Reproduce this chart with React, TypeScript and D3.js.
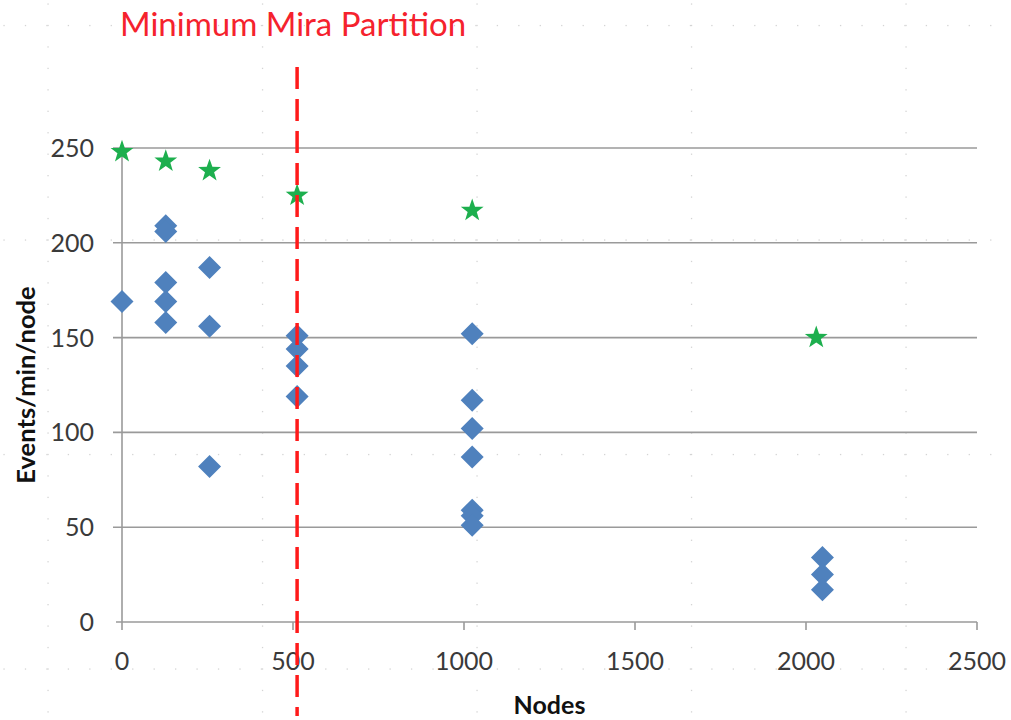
import React from "react";
import * as d3 from "d3";

const blueNodes = [0, 128, 128, 128, 128, 128, 256, 256, 256, 512, 512, 512, 512, 1024, 1024, 1024, 1024, 1024, 1024, 1024, 2048, 2048, 2048];
const blueValues = [169, 209, 206, 179, 169, 158, 187, 156, 82, 151, 144, 135, 119, 152, 117, 102, 87, 59, 56, 51, 34, 25, 17];
const starNodes = [0, 128, 256, 512, 1024, 2030];
const starValues = [248, 243, 238, 225, 217, 150];
const xTicks = [0, 500, 1000, 1500, 2000, 2500];
const yTicks = [0, 50, 100, 150, 200, 250];
const partitionNodes = 512;
const titleText = "Minimum Mira Partition";

const W = 1011;
const H = 720;

function starPath(R: number, r: number) {
  const pts: [number, number][] = [];
  for (let i = 0; i < 10; i++) {
    const a = -Math.PI / 2 + (i * Math.PI) / 5;
    const rad = i % 2 === 0 ? R : r;
    pts.push([Math.cos(a) * rad, Math.sin(a) * rad]);
  }
  return d3.line()(pts) + "Z";
}

function diamondPath(h: number) {
  return `M0,${-h}L${h},0L0,${h}L${-h},0Z`;
}

export default function App() {
  const x = d3.scaleLinear().domain([0, 2500]).range([122, 977]);
  const y = d3.scaleLinear().domain([0, 250]).range([622, 148]);
  const font = "Lato, 'Open Sans', sans-serif";

  // background dotted layout grid
  const dots: JSX.Element[] = [];
  const step = 21.45;
  const major = 214.5;
  const ox = 48;
  const oy = 25.5;
  for (let gx = ox; gx < W; gx += major) {
    for (let yy = 4; yy < H; yy += step) dots.push(<rect key={`v${gx}-${yy}`} x={gx - 0.6} y={yy - 0.6} width={1.3} height={1.3} fill="#d4d4d4" />);
  }
  for (let gy = oy; gy < H; gy += major) {
    for (let xx = 4; xx < W; xx += step) dots.push(<rect key={`h${gy}-${xx}`} x={xx - 0.6} y={gy - 0.6} width={1.3} height={1.3} fill="#d4d4d4" />);
  }

  const star = starPath(12, 4.8);
  const diamond = diamondPath(11.5);

  return (
    <svg width={W} height={H} style={{ position: "absolute", left: 0, top: 0, background: "#fff" }}>
      <g>{dots}</g>
      {/* gridlines */}
      {yTicks.map((t) => (
        <line key={`g${t}`} x1={t === 0 ? 116 : 113} x2={977} y1={y(t)} y2={y(t)} stroke="#9a9a9a" strokeWidth={1.6} />
      ))}
      {/* y axis */}
      <line x1={x(0)} x2={x(0)} y1={y(250)} y2={y(0)} stroke="#9a9a9a" strokeWidth={1.6} />
      {/* x ticks */}
      {xTicks.map((t) => (
        <line key={`xt${t}`} x1={x(t)} x2={x(t)} y1={y(0)} y2={y(0) + 8} stroke="#9a9a9a" strokeWidth={1.6} />
      ))}
      {/* y tick labels */}
      {yTicks.map((t) => (
        <text key={`yl${t}`} x={94} y={y(t)} dy="0.36em" textAnchor="end" fontFamily={font} fontSize={25} fill="#3a3a3a">
          {t}
        </text>
      ))}
      {xTicks.map((t) => (
        <text key={`xl${t}`} x={x(t)} y={661} dy="0.36em" textAnchor="middle" fontFamily={font} fontSize={25} fill="#3a3a3a">
          {t}
        </text>
      ))}
      <text x={(x(0) + x(2500)) / 2} y={705} dy="0.36em" textAnchor="middle" fontFamily={font} fontWeight="bold" fontSize={25} fill="#111">
        Nodes
      </text>
      <text transform={`translate(26,${(y(0) + y(250)) / 2}) rotate(-90)`} dy="0.36em" textAnchor="middle" fontFamily={font} fontWeight="bold" fontSize={25.5} fill="#111">
        Events/min/node
      </text>
      {/* diamonds */}
      {blueValues.map((v, i) => (
        <path key={`d${i}`} d={diamond} transform={`translate(${x(blueNodes[i])},${y(v)})`} fill="#4F81BD" />
      ))}
      {/* stars */}
      {starValues.map((v, i) => (
        <path key={`s${i}`} d={star} transform={`translate(${x(starNodes[i])},${y(v)})`} fill="#1DAF4E" />
      ))}
      {/* partition line */}
      <line x1={x(partitionNodes)} x2={x(partitionNodes)} y1={67} y2={716} stroke="#FF1A1A" strokeWidth={3.5} strokeDasharray="22 10" />
      <text x={120} y={24} dy="0.36em" fontFamily={font} fontSize={33} fill="#F5222D">
        {titleText}
      </text>
    </svg>
  );
}
